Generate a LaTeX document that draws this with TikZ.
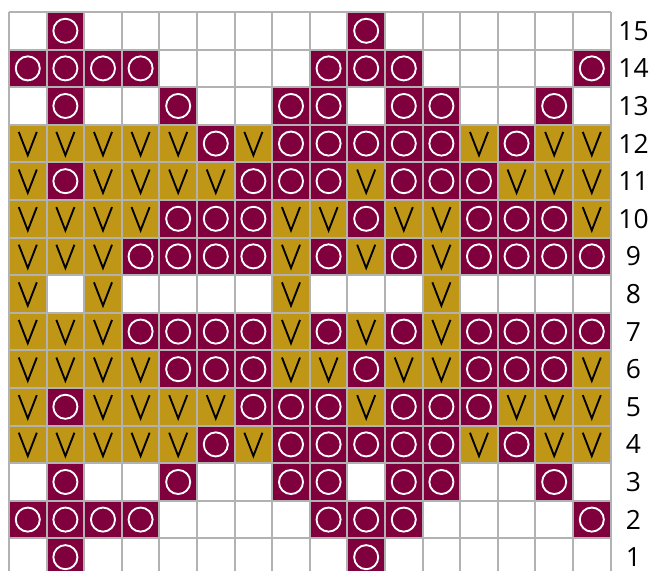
\documentclass[tikz,border=0pt]{standalone}
\usepackage{fontspec}
\setmainfont{Open Sans}

\definecolor{knitpurple}{RGB}{128,0,62}
\definecolor{knitgold}{RGB}{191,150,22}
\definecolor{gridgray}{RGB}{178,178,178}

% one chart row: #1 = row number, #2 = codes (0 empty, 1 purple ring, 2 gold V)
\newcommand{\chartrow}[2]{%
    \foreach \c [count=\col] in {#2} {
        \ifnum\c=1
            \node[purplecell] (c-#1-\col) at (\col-0.5,#1-0.5) {};
            \draw[ring] (c-#1-\col.center) circle (0.32);
        \fi
        \ifnum\c=2
            \node[goldcell] (c-#1-\col) at (\col-0.5,#1-0.5) {};
            \draw[vmark] ([shift={(-0.24,0.31)}]c-#1-\col.center) -- ([shift={(0,-0.31)}]c-#1-\col.center) -- ([shift={(0.24,0.31)}]c-#1-\col.center);
        \fi
    }%
}

\begin{document}
\begin{tikzpicture}[
        x=0.6cm, y=0.6cm,
        purplecell/.style={rectangle, minimum size=0.6cm, inner sep=0pt, fill=knitpurple},
        goldcell/.style={rectangle, minimum size=0.6cm, inner sep=0pt, fill=knitgold},
        ring/.style={draw=white, line width=0.85pt},
        vmark/.style={draw=black, line width=0.85pt},
        gridline/.style={draw=gridgray, line width=0.9pt, step=0.6cm},
        rowlabel/.style={font=\fontsize{12}{14}\selectfont, inner sep=0pt}
    ]
        \useasboundingbox (-0.239,0.133) rectangle (17.048,15.319);

        % Cells
        \chartrow{15}{0,1,0,0,0,0,0,0,0,1,0,0,0,0,0,0}
        \chartrow{14}{1,1,1,1,0,0,0,0,1,1,1,0,0,0,0,1}
        \chartrow{13}{0,1,0,0,1,0,0,1,1,0,1,1,0,0,1,0}
        \chartrow{12}{2,2,2,2,2,1,2,1,1,1,1,1,2,1,2,2}
        \chartrow{11}{2,1,2,2,2,2,1,1,1,2,1,1,1,2,2,2}
        \chartrow{10}{2,2,2,2,1,1,1,2,2,1,2,2,1,1,1,2}
        \chartrow{9}{2,2,2,1,1,1,1,2,1,2,1,2,1,1,1,1}
        \chartrow{8}{2,0,2,0,0,0,0,2,0,0,0,2,0,0,0,0}
        \chartrow{7}{2,2,2,1,1,1,1,2,1,2,1,2,1,1,1,1}
        \chartrow{6}{2,2,2,2,1,1,1,2,2,1,2,2,1,1,1,2}
        \chartrow{5}{2,1,2,2,2,2,1,1,1,2,1,1,1,2,2,2}
        \chartrow{4}{2,2,2,2,2,1,2,1,1,1,1,1,2,1,2,2}
        \chartrow{3}{0,1,0,0,1,0,0,1,1,0,1,1,0,0,1,0}
        \chartrow{2}{1,1,1,1,0,0,0,0,1,1,1,0,0,0,0,1}
        \chartrow{1}{0,1,0,0,0,0,0,0,0,1,0,0,0,0,0,0}

        % Grid
        \draw[gridline] (0,0) grid (16,15);

        % Row numbers
        \foreach \row in {1,...,15}
            \node[rowlabel] (lbl-\row) at (16.61,\row-0.5) {\row};
    \end{tikzpicture}
\end{document}
